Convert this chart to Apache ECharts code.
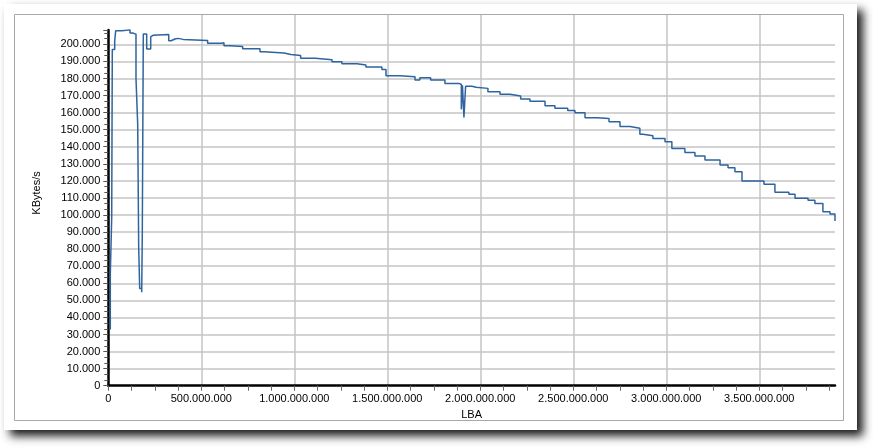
<!DOCTYPE html>
<html><head><meta charset="utf-8">
<script src="https://cdn.jsdelivr.net/npm/echarts@6/dist/echarts.min.js"></script>
<style>html,body{margin:0;padding:0;background:#fff}#c{width:873px;height:448px}</style>
</head><body><div id="c"></div>
<script>
// LBA positions (millions of sectors) and transfer rate (KBytes/s)
const lbaMillions = [10.8,10.8,18.3,21.5,34.4,39.8,73.7,116.7,131,148.9,158,163.4,168.8,179.6,182.8,188.2,206.4,228,235,240,
  325,337,358.6,374.7,403,534,611,622,654,722.5,815.5,837,944.6,982,1034,1113,1203,1256,1337,1385,1471,1493,1568,1649,1675,1733,1810,
  1886,1898,1904,1912,1921,1955,1977,2041,2106,2160,2217,2267,2348,2401,2470,2509,2563,2627,2692,2751,2805,2858,2875,2928,2993,3030,
  3100,3154,3208,3289,3332,3369,3407,3525,3584,3659,3692,3762,3799,3842,3880,3907];
const kbps = [33000,65300,98400,197000,201900,208000,208500,206600,206000,180000,153300,80700,57000,54700,89600,206000,197200,204400,205300,205800,
  202100,203100,203500,202900,202300,200600,200900,199200,198800,197400,195700,194900,194100,193500,191800,191000,189800,188600,187900,186700,185300,181600,181000,179100,180400,179100,177100,
  176500,161900,176000,157200,175400,174800,174200,172200,170700,169700,168000,166600,164000,162500,161300,159900,157000,156600,154600,151900,150800,147300,146500,144900,142900,139000,
  136700,134600,132200,129300,127700,125400,119900,118000,113300,112100,109800,108600,106800,101900,100600,96500];
const xTicks = [0,500000000,1000000000,1500000000,2000000000,2500000000,3000000000,3500000000];
const xMax = 3907029168;
const yMax = 208400;

const fmt = v => String(Math.round(v)).replace(/\B(?=(\d{3})+(?!\d))/g, '.');
const data = lbaMillions.map((x, i) => [x * 1e6, kbps[i]]);
const font = 'Liberation Sans';
const chart = echarts.init(document.getElementById('c'), null, {renderer: 'canvas'});
chart.setOption({
  animation: false,
  backgroundColor: '#fff',
  graphic: [
    {type: 'rect', z: -10, shape: {x: 4, y: 4, width: 853, height: 426},
     style: {fill: '#fff', shadowBlur: 9, shadowColor: 'rgba(0,0,0,0.9)', shadowOffsetX: 6, shadowOffsetY: 6}},
    {type: 'rect', z: -9, shape: {x: 14.5, y: 14.5, width: 829, height: 406},
     style: {fill: '#fff', stroke: '#a8a8a8', lineWidth: 1}},
    {type: 'text', x: 37, y: 193, rotation: Math.PI / 2,
     style: {text: 'KBytes/s', font: '11px "Liberation Sans"', fill: '#000', align: 'center', verticalAlign: 'middle'}}
  ],
  grid: [
    {left: 108.3, right: 38, top: 30, bottom: 62.3},
    {left: 108.3, right: 38, top: 15, bottom: 62.3}
  ],
  xAxis: [
    {type: 'value', gridIndex: 0, min: 0, max: xMax, interval: 500000000,
     name: 'LBA', nameLocation: 'middle', nameGap: 21,
     nameTextStyle: {fontFamily: font, fontSize: 11, color: '#000'},
     axisLine: {show: true, onZero: false, lineStyle: {color: '#000', width: 2.5}},
     axisTick: {show: true, length: 5, lineStyle: {color: '#666'}, customValues: xTicks},
     minorTick: {show: true, splitNumber: 4, length: 5, lineStyle: {color: '#666'}},
     axisLabel: {fontFamily: font, fontSize: 11, color: '#000', margin: 8, formatter: fmt, customValues: xTicks},
     splitLine: {show: false}},
    {type: 'value', gridIndex: 1, min: 0, max: xMax, interval: 500000000,
     axisLine: {show: false}, axisTick: {show: false}, axisLabel: {show: false},
     splitLine: {show: true, showMinLine: false, showMaxLine: false, lineStyle: {color: '#c4c4c4', width: 1.5}}}
  ],
  yAxis: [
    {type: 'value', gridIndex: 0, min: 0, max: yMax, interval: 10000,
     axisLine: {show: true, onZero: false, lineStyle: {color: '#000', width: 2.5}},
     axisTick: {show: true, length: 5, lineStyle: {color: '#555'}},
     minorTick: {show: true, splitNumber: 3, length: 4, lineStyle: {color: '#555'}},
     axisLabel: {fontFamily: font, fontSize: 11, color: '#000', margin: 8, formatter: fmt, showMaxLabel: false},
     splitLine: {show: true, showMinLine: false, showMaxLine: false, lineStyle: {color: '#c4c4c4', width: 1.5}}},
    {type: 'value', gridIndex: 1, min: 0, max: 1, show: false}
  ],
  series: [{
    type: 'line', xAxisIndex: 0, yAxisIndex: 0, data: data, step: 'end',
    showSymbol: false, symbol: 'none',
    lineStyle: {color: '#2e64a0', width: 1.5}
  }]
});
</script></body></html>
